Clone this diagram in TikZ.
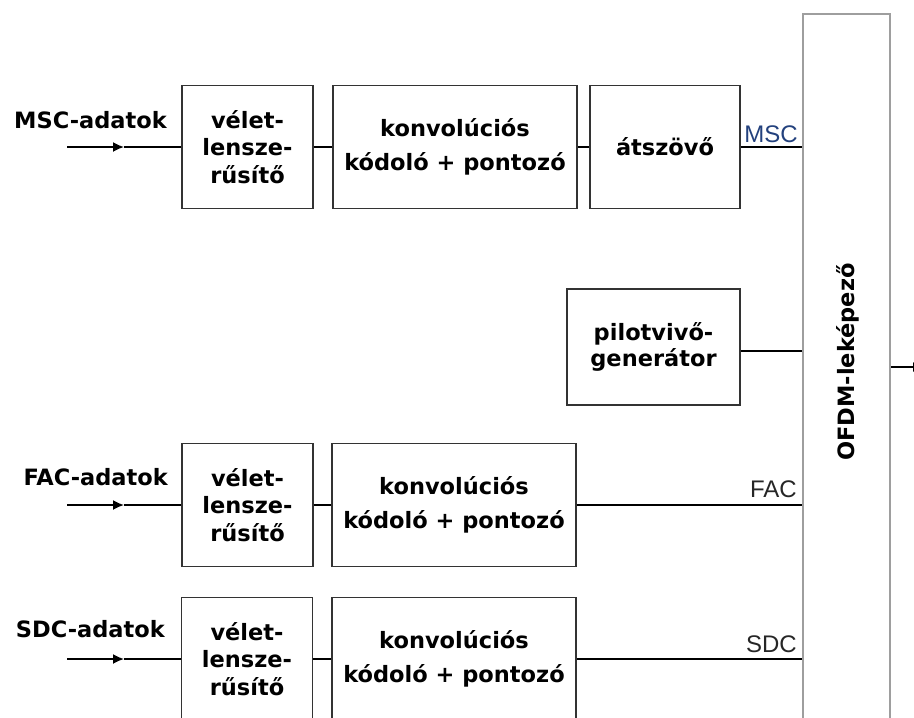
\documentclass[tikz,border=0pt]{standalone}
\usepackage{fontspec}
\setmainfont{DejaVu Sans}
\newfontfamily\sigfont{Liberation Sans}
\usetikzlibrary{arrows.meta,positioning}

\definecolor{sigblue}{RGB}{35,65,125}

\begin{document}
\begin{tikzpicture}[
  x=1pt, y=-1pt,
  font=\fontsize{22.5}{27.5}\selectfont\bfseries,
  blk/.style={draw=black!80, line width=1.7pt, fill=white, align=center, inner sep=0pt,
              minimum height=123pt},
  vbox/.style={blk, minimum width=131pt},
  kbox/.style={blk, minimum width=244pt, font=\fontsize{22.5}{34}\selectfont\bfseries},
  ofd/.style={draw=black!38, line width=2.2pt, minimum width=87pt, minimum height=740pt, anchor=north},
  lbl/.style={inner sep=0pt, anchor=base east},
  sig/.style={font=\fontsize{24}{28}\selectfont\sigfont, inner sep=0pt, anchor=base east},
  arr/.style={-{Latex[length=11pt,width=10pt]}, line width=1.7pt},
  ln/.style={line width=1.7pt}
]
\clip (0,0) rectangle (914,718);

% OFDM mapper
\node[ofd] (ofdm) at (846.5,13) {};
\node[rotate=90] (ofdmt) at (848,362) {OFDM-leképező};

% MSC path
\node[lbl] (mscin) at (167,128) {MSC-adatok};
\node[vbox] (v1) at (247.5,147) {vélet-\\lensze-\\rűsítő};
\node[kbox] (k1) at (455,147) {konvolúciós\\kódoló + pontozó};
\node[blk, minimum width=150pt] (a1) at (665,147) {átszövő};
\node[sig, text=sigblue] (mscl) at (798,142.5) {MSC};

\coordinate (i1) at (67,147);
\coordinate (h1) at (124,147);
\draw[arr] (i1) -- (h1);
\draw[ln] (h1) -- (v1);
\draw[ln] (v1) -- (k1);
\draw[ln] (k1) -- (a1);
\draw[ln] (a1) -- (a1 -| ofdm.west);

% pilot carriers
\node[blk, minimum width=173pt, minimum height=116pt, font=\fontsize{22.5}{26.5}\selectfont\bfseries]
  (p2) at (653.5,347) {pilotvivő-\\generátor};
\draw[ln] (p2.east |- 0,351) -- (ofdm.west |- 0,351);

% FAC path
\node[lbl] (facin) at (168,485) {FAC-adatok};
\node[vbox] (v3) at (247.5,505) {vélet-\\lensze-\\rűsítő};
\node[kbox] (k3) at (454,505) {konvolúciós\\kódoló + pontozó};
\node[sig, text=black!85] (facl) at (797,497) {FAC};

\coordinate (i3) at (67,505);
\coordinate (h3) at (124,505);
\draw[arr] (i3) -- (h3);
\draw[ln] (h3) -- (v3);
\draw[ln] (v3) -- (k3);
\draw[ln] (k3) -- (k3 -| ofdm.west);

% SDC path
\node[lbl] (sdcin) at (165,637) {SDC-adatok};
\node[vbox] (v4) at (247,659) {vélet-\\lensze-\\rűsítő};
\node[kbox] (k4) at (454,659) {konvolúciós\\kódoló + pontozó};
\node[sig, text=black!85] (sdcl) at (797,652) {SDC};

\coordinate (i4) at (67,659);
\coordinate (h4) at (124,659);
\draw[arr] (i4) -- (h4);
\draw[ln] (h4) -- (v4);
\draw[ln] (v4) -- (k4);
\draw[ln] (k4) -- (k4 -| ofdm.west);

% output
\coordinate (out) at (924,367);
\draw[arr] (ofdm.east |- out) -- (out);
\end{tikzpicture}
\end{document}
